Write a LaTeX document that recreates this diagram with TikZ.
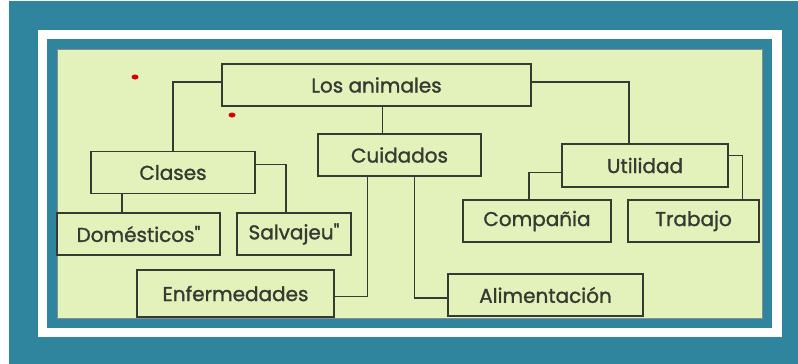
\documentclass[tikz,border=0pt]{standalone}
\usepackage{fontspec}
\setmainfont{Poppins}
\newfontfamily\cajafont{Poppins}[FakeBold=1.3,Ligatures=ResetAll]
\usepackage{tikz}

\definecolor{marco}{RGB}{47,133,157}
\definecolor{papel}{RGB}{226,242,186}
\definecolor{tinta}{RGB}{55,58,50}

\begin{document}
\begin{tikzpicture}[x=1pt,y=-1pt,
    caja/.style={draw=tinta,line width=1.1pt,minimum height=42pt,inner sep=0,text=tinta,font=\cajafont\fontsize{20}{22}\selectfont},
    linea/.style={draw=tinta,line width=1.1pt}]
        \useasboundingbox (0,0) rectangle (798,364);
        % fondo y marco
        \fill[white] (0,0) rectangle (798,364);
        \fill[marco] (9,1) rectangle (798,364);
        \fill[white] (38,30) rectangle (782,337);
        \fill[marco] (47,39) rectangle (772,328);
        \fill[papel,draw=black!45,line width=1pt] (57,49) rectangle (762,318);
        \fill[red!85!black] (135,77) ellipse (3.5pt and 2.5pt) (232,115) ellipse (3.5pt and 2.5pt);
        % cajas
        \node[caja,minimum width=309pt] (animales) at (376.5,85) {Los animales};
        \node[caja,minimum width=163pt] (cuidados) at (399.5,155) {Cuidados};
        \node[caja,minimum width=164pt] (clases) at (173,172.5) {Clases};
        \node[caja,minimum width=166pt,minimum height=43pt] (utilidad) at (645,165.5) {Utilidad};
        \node[caja,minimum width=163pt] (domesticos) at (138.5,234) {Domésticos"};
        \node[caja,minimum width=114pt] (salvajes) at (294,234) {Salvajeu"};
        \node[caja,minimum width=148pt] (compania) at (537,221) {Compañia};
        \node[caja,minimum width=131pt] (trabajo) at (693.5,221) {Trabajo};
        \node[caja,minimum width=197pt,minimum height=47pt] (enfermedades) at (235.5,293.5) {Enfermedades};
        \node[caja,minimum width=195pt] (alimentacion) at (545.5,295) {Alimentación};
        % conexiones
        \draw[linea] ([yshift=3pt]animales.west) -| (clases.north);
        \draw[linea] ([xshift=6pt]animales.south) -- ([xshift=6pt]animales.south |- cuidados.north);
        \draw[linea] ([yshift=3pt]animales.east) -| ([xshift=-16pt]utilidad.north);
        \draw[linea] ([yshift=8pt]clases.east) -| ([xshift=-8pt]salvajes.north);
        \draw[linea] ([xshift=-51pt]clases.south) -- ([xshift=-51pt]clases.south |- domesticos.north);
        \draw[linea] ([xshift=-32pt]cuidados.south) |- ([yshift=-3pt]enfermedades.east);
        \draw[linea] ([xshift=15pt]cuidados.south) |- ([yshift=-3pt]alimentacion.west);
        \draw[linea] ([yshift=-7pt]utilidad.west) -| ([xshift=-8pt]compania.north);
        \draw[linea] ([yshift=10pt]utilidad.east) -| ([xshift=49pt]trabajo.north);
      \end{tikzpicture}
\end{document}
